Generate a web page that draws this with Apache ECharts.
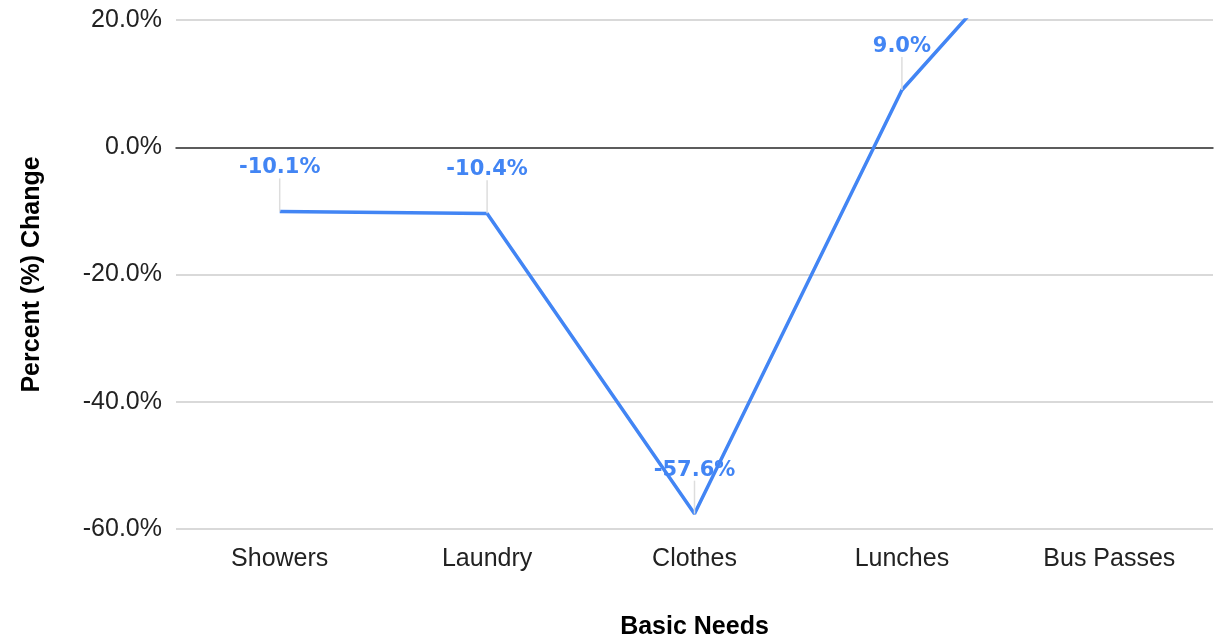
<!DOCTYPE html>
<html>
<head>
<meta charset="utf-8">
<script src="https://cdn.jsdelivr.net/npm/echarts@6/dist/echarts.min.js"></script>
<style>
html, body { margin: 0; padding: 0; background: #fff; }
#container { width: 1223px; height: 637px; }
</style>
</head>
<body>
<div id="container"></div>
<script>
var categories = ['Showers', 'Laundry', 'Clothes', 'Lunches', 'Bus Passes'];
var changeValues = [-10.1, -10.4, -57.6, 9.0, 45.4];
var yTicks = [-60, -40, -20, 0, 20];

var dom = document.getElementById("container");
var myChart = echarts.init(dom);

var yMax = yTicks[yTicks.length - 1];
var seriesData = [];
for (var i = 0; i < changeValues.length; i++) {
    // points above the plot are clipped, so their labels are hidden too
    seriesData.push({
        value: changeValues[i],
        label: { show: changeValues[i] <= yMax },
        labelLine: { show: changeValues[i] <= yMax }
    });
}

var option = {
    animation: false,
    grid: {
        left: 176,
        right: 10,
        top: 20,
        bottom: 108,
        outerBoundsMode: 'none'
    },
    xAxis: {
        type: 'category',
        data: categories,
        name: 'Basic Needs',
        nameLocation: 'middle',
        nameGap: 86,
        nameTextStyle: {
            fontFamily: 'Liberation Sans',
            fontSize: 25,
            fontWeight: 'bold',
            color: '#000'
        },
        axisTick: { show: false },
        axisLine: {
            onZero: true,
            lineStyle: { color: '#333', width: 1.5 }
        },
        axisLabel: {
            fontFamily: 'Liberation Sans',
            fontSize: 25,
            color: '#222',
            margin: 18
        }
    },
    yAxis: {
        type: 'value',
        min: yTicks[0],
        max: yMax,
        interval: 20,
        name: 'Percent (%) Change',
        nameLocation: 'middle',
        nameGap: 131,
        nameTextStyle: {
            fontFamily: 'Liberation Sans',
            fontSize: 25,
            fontWeight: 'bold',
            color: '#000'
        },
        axisLine: { show: false },
        axisTick: { show: false },
        splitLine: { lineStyle: { color: '#ccc', width: 1.5 } },
        axisLabel: {
            fontFamily: 'Liberation Sans',
            fontSize: 25,
            color: '#222',
            margin: 14,
            padding: [5, 0, 0, 0],
            formatter: function (v) { return v.toFixed(1) + '%'; }
        }
    },
    series: [
        {
            type: 'line',
            data: seriesData,
            clip: true,
            symbol: 'circle',
            symbolSize: 0.1,
            itemStyle: { color: '#4285f4' },
            lineStyle: { color: '#4285f4', width: 3.5 },
            label: {
                show: true,
                position: 'top',
                distance: 5,
                fontFamily: 'DejaVu Sans',
                fontWeight: 'bold',
                fontSize: 21,
                color: '#4285f4',
                formatter: function (p) { return p.value.toFixed(1) + '%'; }
            },
            labelLayout: { dy: -28 },
            labelLine: {
                show: true,
                lineStyle: { color: '#ddd', width: 1.5 }
            }
        }
    ]
};
myChart.setOption(option);
</script>
</body>
</html>
